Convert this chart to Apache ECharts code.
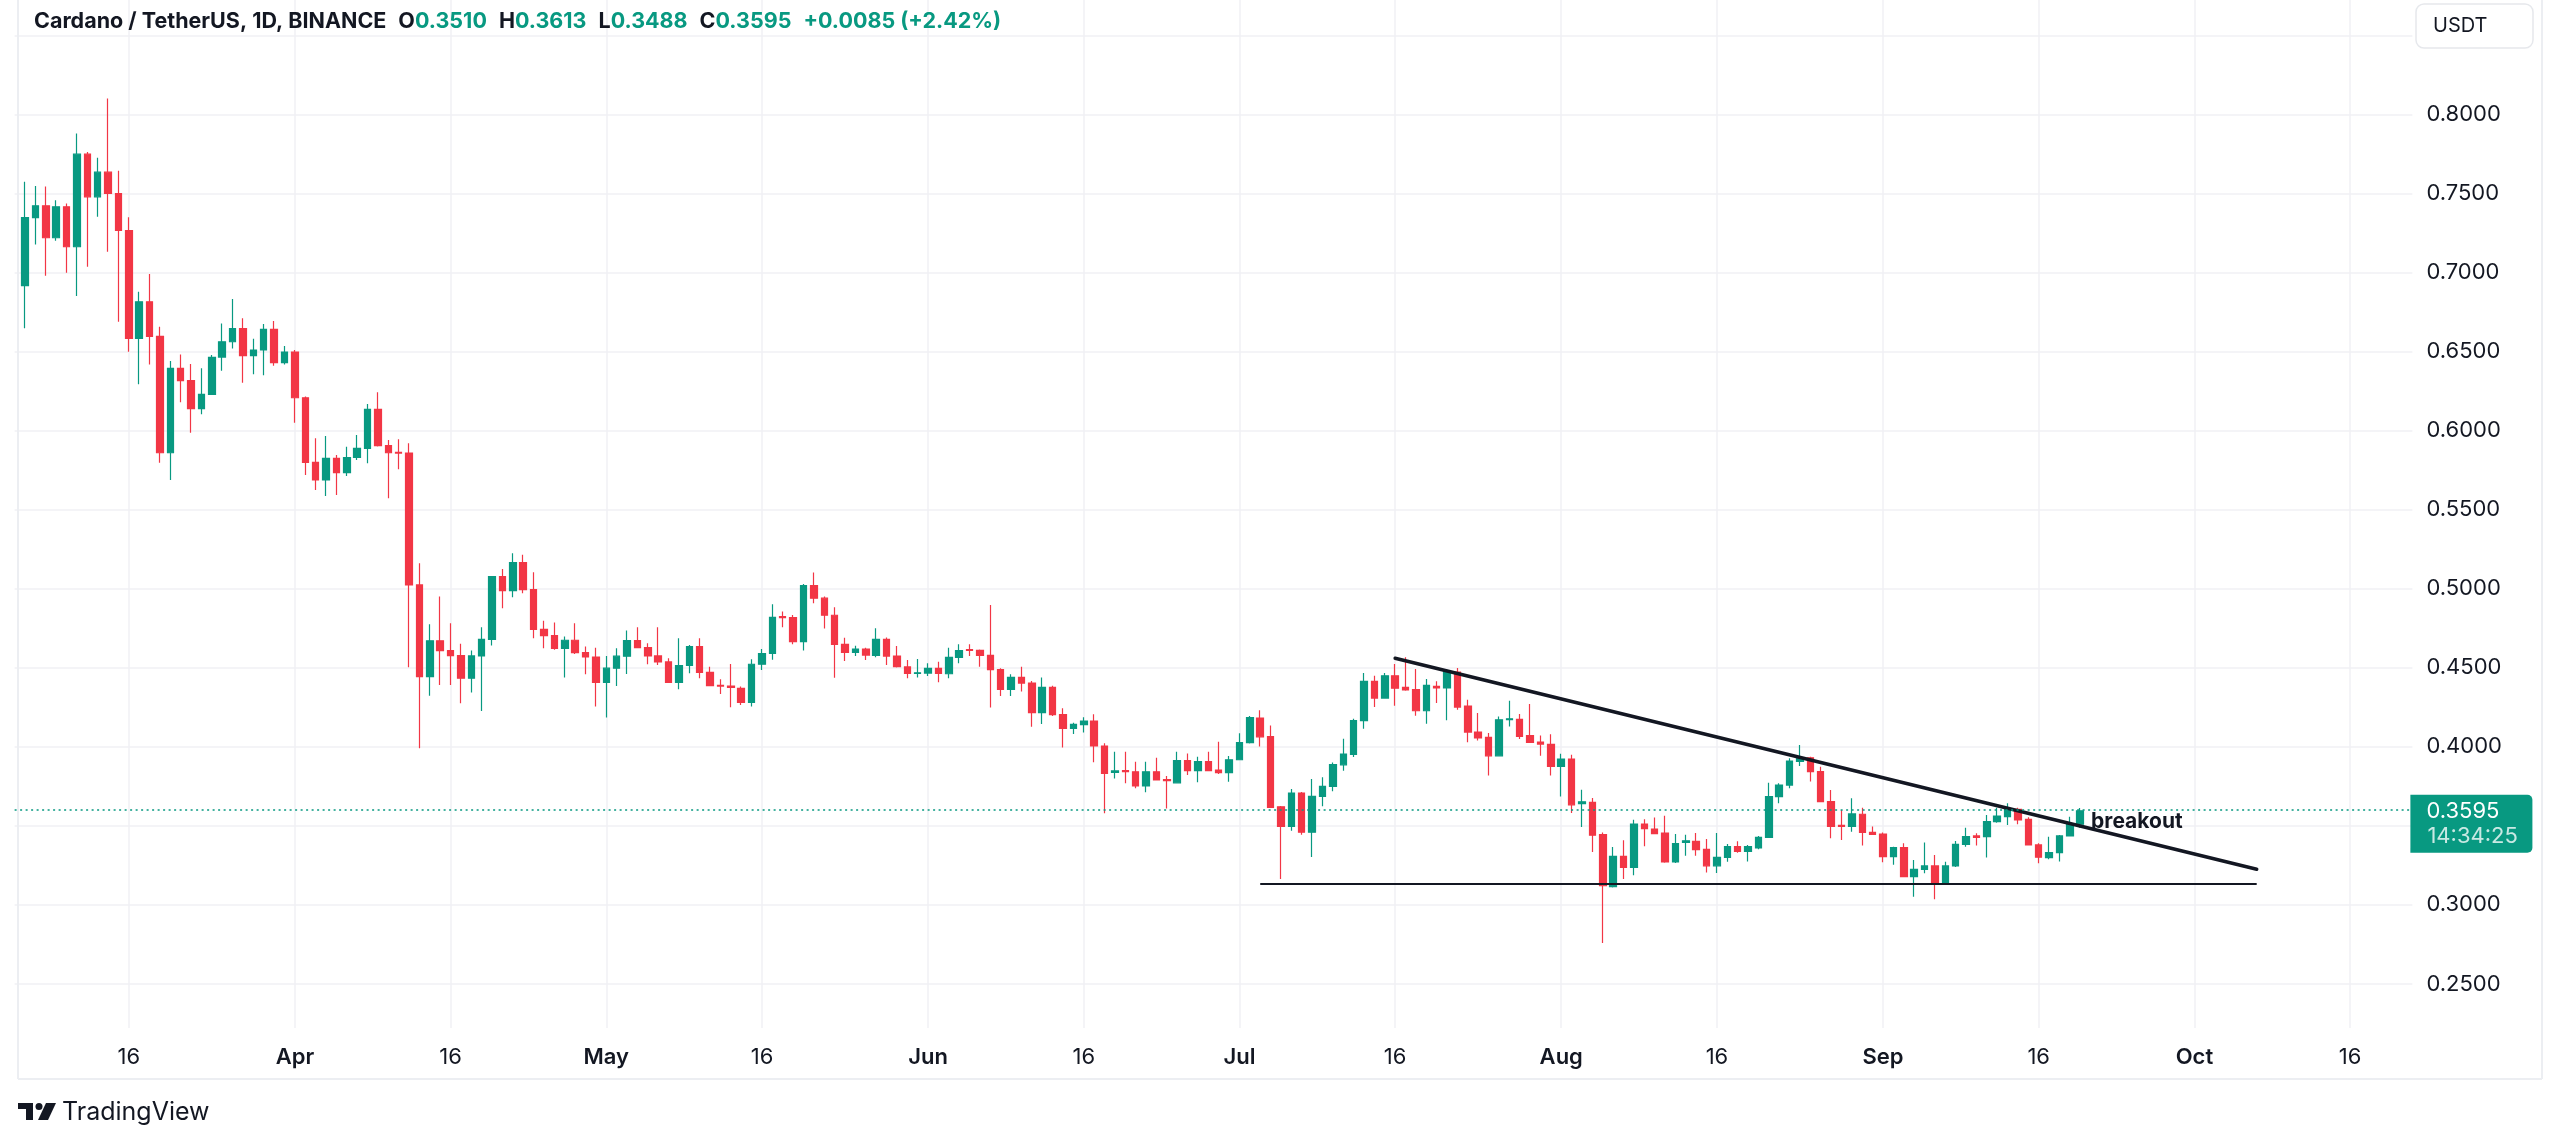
<!DOCTYPE html>
<html><head><meta charset="utf-8">
<script src="https://cdn.jsdelivr.net/npm/echarts@6/dist/echarts.min.js"></script>
<style>html,body{margin:0;padding:0;background:#fff;}#c{width:2560px;height:1143px;}</style>
</head><body><div id="c"></div>
<script>
// ---------------- data (ADA/USDT daily, 2024-03-06 .. 2024-09-20) ----------------
const firstDate = '2024-03-06';
const open = [
0.6917,0.7347,0.7422,0.7220,0.7416,0.7163,0.7749,0.7479,0.7635,0.7500,
0.7266,0.6583,0.6815,0.6596,0.5860,0.6394,0.6316,0.6139,0.6229,0.6465,
0.6562,0.6645,0.6474,0.6510,0.6640,0.6430,0.6497,0.6208,0.5799,0.5688,
0.5825,0.5734,0.5830,0.5888,0.6134,0.5905,0.5862,0.5858,0.5024,0.4444,
0.4670,0.4608,0.4577,0.4434,0.4575,0.4680,0.5077,0.4988,0.5165,0.4994,
0.4743,0.4703,0.4623,0.4674,0.4595,0.4568,0.4408,0.4497,0.4573,0.4672,
0.4627,0.4575,0.4537,0.4408,0.4514,0.4634,0.4471,0.4389,0.4384,0.4370,
0.4280,0.4522,0.4590,0.4824,0.4817,0.4665,0.5020,0.4940,0.4832,0.4648,
0.4597,0.4618,0.4578,0.4680,0.4574,0.4505,0.4464,0.4466,0.4496,0.4462,
0.4566,0.4614,0.4610,0.4578,0.4488,0.4363,0.4439,0.4403,0.4216,0.4376,
0.4203,0.4117,0.4140,0.4163,0.4005,0.3838,0.3849,0.3842,0.3752,0.3842,
0.3792,0.3772,0.3912,0.3849,0.3906,0.3853,0.3836,0.3918,0.4026,0.4182,
0.4065,0.3620,0.3496,0.3707,0.3460,0.3686,0.3749,0.3886,0.3952,0.4165,
0.4414,0.4308,0.4449,0.4376,0.4361,0.4228,0.4382,0.4372,0.4472,0.4258,
0.4093,0.4060,0.3943,0.4171,0.4173,0.4070,0.4030,0.4015,0.3876,0.3922,
0.3640,0.3648,0.3444,0.3115,0.3307,0.3237,0.3511,0.3480,0.3454,0.3271,
0.3395,0.3402,0.3351,0.3247,0.3300,0.3369,0.3338,0.3360,0.3427,0.3685,
0.3758,0.3908,0.3930,0.3843,0.3653,0.3503,0.3496,0.3573,0.3459,0.3448,
0.3305,0.3362,0.3179,0.3225,0.3246,0.3136,0.3246,0.3383,0.3436,0.3432,
0.3527,0.3558,0.3604,0.3541,0.3379,0.3299,0.3330,0.3436,0.3510];
const high = [
0.7574,0.7547,0.7545,0.7458,0.7437,0.7880,0.7762,0.7726,0.8101,0.7644,
0.7349,0.6879,0.6990,0.6657,0.6440,0.6482,0.6421,0.6394,0.6478,0.6678,
0.6832,0.6710,0.6581,0.6674,0.6693,0.6535,0.6510,0.6215,0.5951,0.5966,
0.5846,0.5898,0.5972,0.6168,0.6242,0.5941,0.5945,0.5920,0.5161,0.4775,
0.4950,0.4781,0.4651,0.4609,0.4756,0.5081,0.5125,0.5224,0.5214,0.5104,
0.4798,0.4786,0.4697,0.4781,0.4634,0.4627,0.4575,0.4623,0.4735,0.4756,
0.4655,0.4756,0.4560,0.4687,0.4644,0.4687,0.4507,0.4427,0.4524,0.4381,
0.4554,0.4619,0.4902,0.4855,0.4834,0.5030,0.5102,0.4950,0.4882,0.4690,
0.4639,0.4627,0.4749,0.4692,0.4637,0.4549,0.4555,0.4528,0.4538,0.4627,
0.4648,0.4648,0.4616,0.4897,0.4496,0.4458,0.4507,0.4416,0.4439,0.4386,
0.4243,0.4152,0.4186,0.4205,0.4022,0.3969,0.3969,0.3906,0.3906,0.3931,
0.3815,0.3969,0.3958,0.3937,0.3969,0.4032,0.3942,0.4085,0.4195,0.4231,
0.4134,0.3625,0.3733,0.3714,0.3796,0.3808,0.3901,0.4051,0.4177,0.4466,
0.4449,0.4466,0.4523,0.4567,0.4492,0.4428,0.4414,0.4492,0.4498,0.4298,
0.4213,0.4087,0.4192,0.4291,0.4207,0.4270,0.4072,0.4080,0.3956,0.3950,
0.3728,0.3676,0.3458,0.3366,0.3408,0.3539,0.3542,0.3552,0.3564,0.3448,
0.3444,0.3454,0.3416,0.3454,0.3385,0.3402,0.3379,0.3436,0.3773,0.3769,
0.3927,0.4011,0.3937,0.3874,0.3726,0.3600,0.3674,0.3615,0.3495,0.3457,
0.3368,0.3390,0.3284,0.3395,0.3316,0.3273,0.3404,0.3488,0.3453,0.3569,
0.3615,0.3642,0.3615,0.3554,0.3390,0.3431,0.3442,0.3558,0.3613];
const low = [
0.6647,0.7178,0.6980,0.7201,0.6999,0.6851,0.7037,0.7353,0.7132,0.6689,
0.6499,0.6293,0.6419,0.5797,0.5688,0.6179,0.5987,0.6103,0.6225,0.6379,
0.6520,0.6303,0.6356,0.6350,0.6411,0.6419,0.6050,0.5719,0.5624,0.5586,
0.5593,0.5713,0.5814,0.5793,0.5900,0.5572,0.5755,0.4503,0.3991,0.4322,
0.4391,0.4391,0.4275,0.4343,0.4227,0.4640,0.4876,0.4946,0.4971,0.4687,
0.4623,0.4613,0.4438,0.4587,0.4459,0.4254,0.4185,0.4385,0.4461,0.4623,
0.4522,0.4518,0.4405,0.4364,0.4465,0.4434,0.4383,0.4334,0.4250,0.4265,
0.4254,0.4486,0.4550,0.4756,0.4649,0.4609,0.4908,0.4748,0.4437,0.4542,
0.4574,0.4549,0.4566,0.4517,0.4502,0.4433,0.4439,0.4448,0.4408,0.4433,
0.4528,0.4574,0.4507,0.4249,0.4321,0.4321,0.4349,0.4127,0.4144,0.4195,
0.3996,0.4081,0.4091,0.3902,0.3579,0.3800,0.3769,0.3737,0.3712,0.3786,
0.3610,0.3770,0.3821,0.3775,0.3847,0.3828,0.3779,0.3916,0.4020,0.4001,
0.3612,0.3163,0.3469,0.3444,0.3302,0.3623,0.3718,0.3849,0.3935,0.4114,
0.4251,0.4306,0.4260,0.4354,0.4196,0.4146,0.4277,0.4167,0.4234,0.4028,
0.4040,0.3819,0.3941,0.4129,0.4049,0.4026,0.3943,0.3819,0.3686,0.3581,
0.3492,0.3334,0.2758,0.3110,0.3163,0.3187,0.3370,0.3446,0.3266,0.3264,
0.3311,0.3311,0.3205,0.3202,0.3272,0.3329,0.3274,0.3351,0.3425,0.3642,
0.3737,0.3878,0.3780,0.3651,0.3421,0.3410,0.3463,0.3375,0.3442,0.3269,
0.3253,0.3177,0.3052,0.3200,0.3035,0.3134,0.3240,0.3368,0.3375,0.3299,
0.3520,0.3505,0.3510,0.3377,0.3263,0.3288,0.3274,0.3434,0.3488];
const close = [
0.7347,0.7422,0.7220,0.7416,0.7163,0.7749,0.7479,0.7635,0.7500,0.7266,
0.6583,0.6815,0.6596,0.5860,0.6394,0.6316,0.6139,0.6229,0.6463,0.6562,
0.6645,0.6474,0.6510,0.6640,0.6430,0.6497,0.6208,0.5799,0.5688,0.5825,
0.5734,0.5830,0.5888,0.6134,0.5905,0.5860,0.5858,0.5024,0.4444,0.4670,
0.4608,0.4577,0.4434,0.4575,0.4680,0.5077,0.4988,0.5165,0.4994,0.4743,
0.4703,0.4623,0.4674,0.4595,0.4568,0.4408,0.4497,0.4573,0.4672,0.4627,
0.4575,0.4537,0.4408,0.4514,0.4634,0.4471,0.4387,0.4384,0.4376,0.4280,
0.4522,0.4590,0.4819,0.4817,0.4665,0.5020,0.4940,0.4832,0.4648,0.4597,
0.4618,0.4580,0.4680,0.4574,0.4507,0.4464,0.4468,0.4496,0.4464,0.4566,
0.4608,0.4610,0.4578,0.4488,0.4363,0.4439,0.4403,0.4216,0.4376,0.4203,
0.4117,0.4142,0.4163,0.4005,0.3832,0.3847,0.3842,0.3752,0.3842,0.3790,
0.3786,0.3912,0.3849,0.3906,0.3849,0.3836,0.3918,0.4026,0.4184,0.4063,
0.3617,0.3496,0.3707,0.3460,0.3686,0.3749,0.3888,0.3954,0.4165,0.4414,
0.4308,0.4449,0.4371,0.4359,0.4228,0.4388,0.4372,0.4477,0.4251,0.4093,
0.4056,0.3943,0.4171,0.4177,0.4066,0.4028,0.4017,0.3876,0.3922,0.3633,
0.3652,0.3441,0.3121,0.3307,0.3237,0.3511,0.3482,0.3450,0.3271,0.3387,
0.3405,0.3349,0.3247,0.3300,0.3369,0.3338,0.3368,0.3427,0.3685,0.3758,
0.3910,0.3925,0.3843,0.3653,0.3496,0.3496,0.3575,0.3459,0.3446,0.3305,
0.3362,0.3179,0.3225,0.3246,0.3136,0.3246,0.3383,0.3432,0.3427,0.3527,
0.3562,0.3611,0.3537,0.3379,0.3301,0.3330,0.3436,0.3510,0.3595];

const axisStart = '2024-03-05';
const axisEnd = '2024-10-22';
const tickDates = ['2024-03-16','2024-04-01','2024-04-16','2024-05-01','2024-05-16','2024-06-01','2024-06-16','2024-07-01','2024-07-16','2024-08-01','2024-08-16','2024-09-01','2024-09-16','2024-10-01','2024-10-16'];
const tickLabels = ['16','Apr','16','May','16','Jun','16','Jul','16','Aug','16','Sep','16','Oct','16'];
const priceGridTicks = [0.25,0.30,0.35,0.40,0.45,0.50,0.55,0.60,0.65,0.70,0.75,0.80,0.85];
const priceLabelTicks = [0.25,0.30,0.35,0.40,0.45,0.50,0.55,0.60,0.65,0.70,0.75,0.80];
const resistanceLine = [['2024-07-16', 0.4560], ['2024-10-07', 0.3225]];
const supportLine = [['2024-07-03', 0.3135], ['2024-10-07', 0.3135]];
const breakoutNote = ['2024-09-21', 0.3524, 'breakout'];
const countdown = '14:34:25';

// ---------------- build ----------------
const UP = '#089981', DOWN = '#F23645', INK = '#131722', GRID = '#f0f1f4';
const FONT = 'Inter, "Noto Sans", Roboto, sans-serif';
function iso(d){ return d.toISOString().slice(0,10); }
function dayList(a, b){ const out=[]; let d=new Date(a+'T00:00:00Z'); const e=new Date(b+'T00:00:00Z'); while(d<=e){ out.push(iso(d)); d=new Date(d.getTime()+86400000);} return out; }
const categories = dayList(axisStart, axisEnd);
const candleDates = dayList(firstDate, '2024-12-31').slice(0, open.length);
const idxOf = {}; candleDates.forEach((d,i)=>idxOf[d]=i);
const seriesData = categories.map(c => { const i = idxOf[c]; return i==null ? ['-','-','-','-'] : [open[i], close[i], low[i], high[i]]; });

const n = close.length;
const lastO = open[n-1], lastH = high[n-1], lastL = low[n-1], lastC = close[n-1], prevC = close[n-2];
const chg = lastC - prevC, pct = chg / prevC * 100;
const f4 = v => v.toFixed(4);

const isTick = (idx, val) => tickDates.indexOf(val) >= 0;

const chart = echarts.init(document.getElementById('c'), null, {renderer:'canvas'});
const step = 10.38;
const gridLeft = 14.62;
const gridWidth = step * (categories.length - 1);
const option = {
  animation: false,
  backgroundColor: '#ffffff',
  textStyle: { fontFamily: FONT },
  title: {
    left: 34, top: 11, padding: 0,
    text: '{d|Cardano / TetherUS, 1D, BINANCE}{s|}{d|O}{g|' + f4(lastO) + '}{s|}{d|H}{g|' + f4(lastH) + '}{s|}{d|L}{g|' + f4(lastL) + '}{s|}{d|C}{g|' + f4(lastC) + '}{s|}{g|' + (chg>=0?'+':'') + f4(chg) + ' (' + (pct>=0?'+':'') + pct.toFixed(2) + '%)}',
    textStyle: {
      rich: {
        d: { color: INK, fontSize: 21.5, fontFamily: FONT },
        g: { color: UP, fontSize: 21.5, fontFamily: FONT },
        s: { width: 12 }
      }
    }
  },
  grid: { left: gridLeft, top: 0, width: gridWidth, bottom: 115, containLabel: false },
  xAxis: {
    type: 'category', data: categories, boundaryGap: false,
    axisLine: { show: false }, axisTick: { show: false },
    axisLabel: {
      interval: isTick, margin: 18, color: INK, fontSize: 22, fontFamily: FONT,
      formatter: function(v){ const t = tickLabels[tickDates.indexOf(v)]; return /^\d+$/.test(t) ? '{n|'+t+'}' : '{m|'+t+'}'; },
      rich: { n: { fontSize: 22, color: INK, fontFamily: FONT }, m: { fontSize: 22, color: INK, fontWeight: 600, fontFamily: FONT } }
    },
    splitLine: { show: true, interval: isTick, lineStyle: { color: GRID, width: 1.5 } }
  },
  yAxis: {
    type: 'value', position: 'right', min: 0.2221, max: 0.8724, scale: true,
    axisLine: { show: false },
    axisTick: { show: false, customValues: priceGridTicks },
    axisLabel: { customValues: priceLabelTicks, margin: 14, color: INK, fontSize: 22, fontFamily: FONT, formatter: v => v.toFixed(4) },
    splitLine: { show: true, lineStyle: { color: GRID, width: 1.5 } }
  },
  series: [{
    type: 'candlestick',
    data: seriesData,
    barWidth: 7,
    itemStyle: { color: UP, color0: DOWN, borderColor: UP, borderColor0: DOWN, borderWidth: 1.2 },
    markLine: {
      silent: true, symbol: ['none','none'], animation: false,
      label: { show: false },
      data: [
        [{ coord: resistanceLine[0], lineStyle: { color: INK, width: 3.5, type: 'solid', cap: 'round' } }, { coord: resistanceLine[1] }],
        [{ coord: supportLine[0], lineStyle: { color: INK, width: 2, type: 'solid' } }, { coord: supportLine[1] }],
        { yAxis: lastC, lineStyle: { color: UP, width: 1.5, type: [2, 3.5] } }
      ]
    },
    markPoint: {
      silent: true, animation: false,
      data: [{
        coord: [breakoutNote[0], breakoutNote[1]], symbol: 'circle', symbolSize: 1,
        itemStyle: { color: 'rgba(0,0,0,0)' },
        label: { show: true, position: 'right', distance: 0, formatter: breakoutNote[2], color: INK, fontSize: 21, fontWeight: 700, fontFamily: FONT }
      }]
    }
  }]
};
chart.setOption(option);

// frame, price tag, currency button and logo
const yTag = chart.convertToPixel({ yAxisIndex: 0 }, lastC);
const xRight = gridLeft + gridWidth;
const border = '#eceef2';
chart.setOption({
  graphic: [
    { type: 'line', silent: true, shape: { x1: 18, y1: 0, x2: 18, y2: 1079 }, style: { stroke: border, lineWidth: 2 } },
    { type: 'line', silent: true, shape: { x1: 18, y1: 1079, x2: 2542, y2: 1079 }, style: { stroke: border, lineWidth: 2 } },
    { type: 'line', silent: true, shape: { x1: 2542, y1: 0, x2: 2542, y2: 1079 }, style: { stroke: border, lineWidth: 2 } },
    { type: 'rect', silent: true, z: 10, shape: { x: xRight - 2, y: yTag - 16, width: 122, height: 58, r: [0, 5, 5, 0] }, style: { fill: UP } },
    { type: 'text', silent: true, z: 11, style: { x: xRight + 14, y: yTag + 1, text: f4(lastC), fill: '#ffffff', font: '22px ' + FONT, verticalAlign: 'middle' } },
    { type: 'text', silent: true, z: 11, style: { x: xRight + 15, y: yTag + 26, text: countdown, fill: 'rgba(255,255,255,0.78)', font: '22px ' + FONT, verticalAlign: 'middle' } },
    { type: 'rect', silent: true, z: 20, shape: { x: 2416, y: 4, width: 117, height: 44, r: 8 }, style: { fill: '#fff', stroke: '#e6e8ec', lineWidth: 1.5 } },
    { type: 'text', silent: true, z: 21, style: { x: 2433, y: 26, text: 'USDT', fill: INK, font: '20px ' + FONT, verticalAlign: 'middle' } },
    { type: 'polygon', silent: true, shape: { points: [[18,1103],[33,1103],[33,1120],[26,1120],[26,1109],[18,1109]] }, style: { fill: INK } },
    { type: 'circle', silent: true, shape: { cx: 39, cy: 1106.5, r: 3.5 }, style: { fill: INK } },
    { type: 'polygon', silent: true, shape: { points: [[46,1103],[56,1103],[48,1120],[38,1120]] }, style: { fill: INK } },
    { type: 'text', silent: true, style: { x: 62, y: 1112, text: 'TradingView', fill: INK, font: '25px ' + FONT, verticalAlign: 'middle' } }
  ]
});
</script>
</body></html>
